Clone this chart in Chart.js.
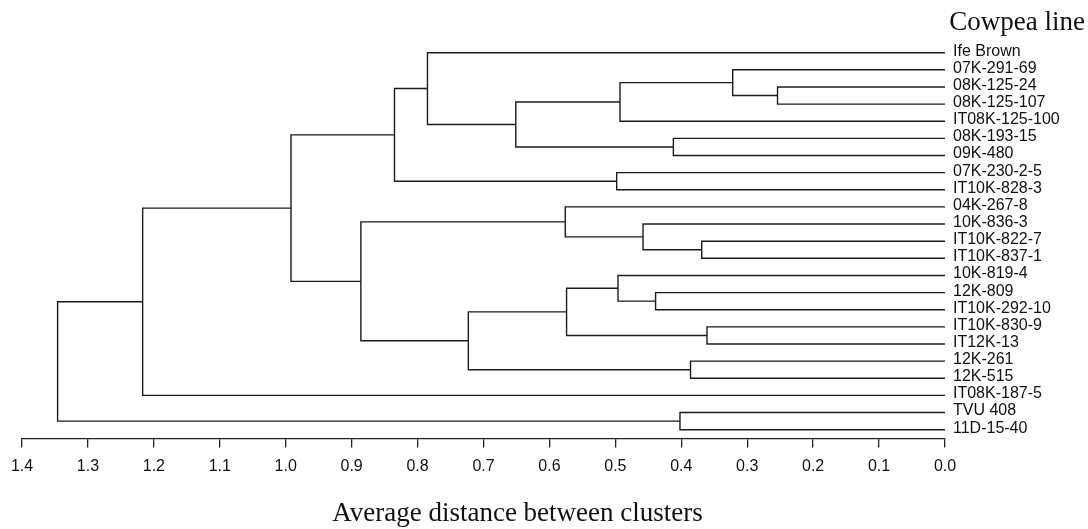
<!DOCTYPE html>
<html>
<head>
<meta charset="utf-8">
<script src="https://cdn.jsdelivr.net/npm/chart.js@4/dist/chart.umd.min.js"></script>
<style>
  html, body { margin: 0; padding: 0; background: #ffffff; }
  #wrap { width: 1088px; height: 529px; position: relative; }
</style>
</head>
<body>
<div id="wrap"><canvas id="c"></canvas></div>
<script>
// Leaves (cowpea lines), top to bottom
const leaves = [
  "Ife Brown", "07K-291-69", "08K-125-24", "08K-125-107", "IT08K-125-100",
  "08K-193-15", "09K-480", "07K-230-2-5", "IT10K-828-3", "04K-267-8",
  "10K-836-3", "IT10K-822-7", "IT10K-837-1", "10K-819-4", "12K-809",
  "IT10K-292-10", "IT10K-830-9", "IT12K-13", "12K-261", "12K-515",
  "IT08K-187-5", "TVU 408", "11D-15-40"
];
// Merge steps: ids < 23 are leaves, id 23+k is the cluster made at step k
const mergeA = [2, 1, 24, 5, 25, 0, 7, 28, 11, 10, 9, 14, 13, 16, 35, 18, 37, 33, 30, 41, 21, 42];
const mergeB = [3, 23, 4, 6, 26, 27, 8, 29, 12, 31, 32, 15, 34, 17, 36, 19, 38, 39, 40, 20, 22, 43];
const mergeHeight = [0.254, 0.322, 0.493, 0.412, 0.651, 0.785, 0.498, 0.835, 0.369, 0.458, 0.576,
                     0.439, 0.496, 0.361, 0.574, 0.386, 0.723, 0.886, 0.992, 1.217, 0.402, 1.346];
// Axis ticks
const xTicks = [0.0, 0.1, 0.2, 0.3, 0.4, 0.5, 0.6, 0.7, 0.8, 0.9, 1.0, 1.1, 1.2, 1.3, 1.4];
const xTitle = "Average distance between clusters";
const legendTitle = "Cowpea line";

// Build node positions from the merges
const nodeY = leaves.map((_, i) => i);
const nodeH = leaves.map(() => 0);
const datasets = [];
mergeA.forEach((a, k) => {
  const b = mergeB[k], h = mergeHeight[k];
  const ya = nodeY[a], yb = nodeY[b];
  nodeY.push((ya + yb) / 2);
  nodeH.push(h);
  datasets.push({
    data: [
      {x: nodeH[a], y: ya}, {x: h, y: ya},
      {x: h, y: yb}, {x: nodeH[b], y: yb}
    ],
    borderColor: '#1b1b1b',
    borderWidth: 1.4,
    pointRadius: 0,
    tension: 0,
    fill: false,
    xAxisID: 'x',
    yAxisID: 'y'
  });
});

const sans = "'Liberation Sans', Arial, sans-serif";
const serif = "'Liberation Serif', 'Times New Roman', serif";

new Chart(document.getElementById('c'), {
  type: 'line',
  data: { datasets },
  options: {
    responsive: true,
    maintainAspectRatio: false,
    animation: false,
    events: [],
    layout: { padding: { left: -50, right: 3, top: 0, bottom: 0 } },
    plugins: {
      legend: { display: false },
      tooltip: { enabled: false },
      subtitle: {
        display: true,
        text: legendTitle,
        position: 'top',
        align: 'end',
        color: '#111',
        font: { family: serif, size: 27, weight: 'normal', lineHeight: 1.2 },
        padding: { top: 7, bottom: 0.6 }
      },
      title: {
        display: true,
        text: xTitle,
        position: 'bottom',
        align: 'center',
        color: '#111',
        font: { family: serif, size: 27, weight: 'normal', lineHeight: 1.1 },
        padding: { top: 14.1, bottom: 0 }
      }
    },
    scales: {
      x: {
        type: 'linear',
        position: 'bottom',
        reverse: true,
        min: 0,
        max: 1.4,
        afterBuildTicks: (s) => { s.ticks = xTicks.map(v => ({ value: v })); },
        ticks: {
          autoSkip: false,
          maxRotation: 0,
          padding: 9.2,
          color: '#111',
          font: { family: sans, size: 16, lineHeight: 1.2 },
          callback: (v) => Number(v).toFixed(1)
        },
        grid: {
          display: true,
          drawOnChartArea: false,
          drawTicks: true,
          tickLength: 9,
          color: '#222',
          lineWidth: 1.3
        },
        border: { display: true, color: '#222', width: 1.3 }
      },
      y: {
        type: 'linear',
        position: 'right',
        reverse: true,
        min: -0.74,
        max: 22.52,
        afterBuildTicks: (s) => { s.ticks = leaves.map((_, i) => ({ value: i })); },
        afterFit: (s) => { s.width = 140; },
        ticks: {
          autoSkip: false,
          padding: 8,
          labelOffset: -1.5,
          color: '#111',
          font: { family: sans, size: 16, lineHeight: 1.2 },
          callback: (v) => leaves[v]
        },
        grid: { display: false, drawTicks: false },
        border: { display: false }
      },
      yl: {
        type: 'linear',
        axis: 'y',
        position: 'left',
        display: true,
        afterFit: (s) => { s.width = 72; },
        ticks: { display: false },
        grid: { display: false, drawTicks: false },
        border: { display: false }
      }
    }
  }
});
</script>
</body>
</html>
